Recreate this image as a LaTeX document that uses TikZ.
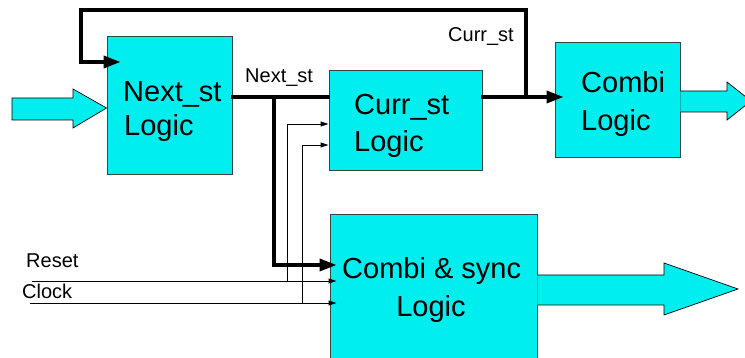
\documentclass[tikz,border=0pt]{standalone}
\usepackage{fontspec}
\setmainfont{Liberation Sans}
\usetikzlibrary{arrows.meta,calc}
\definecolor{cy}{RGB}{0,238,238}
\definecolor{bd}{RGB}{50,70,70}
\tikzset{
  blk/.style={draw=bd,line width=0.9pt,fill=cy,inner sep=0pt},
  bigtxt/.style={font=\fontsize{29}{34}\selectfont,inner sep=0pt,anchor=base west},
  lbl/.style={font=\fontsize{20}{22}\selectfont,inner sep=0pt,anchor=base west},
  bus/.style={line width=3.5pt,line cap=rect},
  bushead/.style={-{Triangle[length=17pt,width=12pt]}},
  wire/.style={line width=0.9pt,-{Triangle[length=8pt,width=5pt]}},
  fatarrow/.style={draw=black,line width=0.7pt,fill=cy,line join=miter}
}
\begin{document}
\begin{tikzpicture}[x=1pt,y=-1pt]
\useasboundingbox (0,0) rectangle (745,358);
% boxes
\node[blk,minimum width=125pt,minimum height=138pt] (ns) at (169.5,105) {};
\node[blk,minimum width=153pt,minimum height=100pt] (cs) at (405.5,120) {};
\node[blk,minimum width=125pt,minimum height=115pt] (cb) at (617.5,99.5) {};
\node[blk,minimum width=207pt,minimum height=150pt] (sy) at (433.5,289) {};
% box texts
\node[bigtxt] (nst1) at (123,102) {Next\_st};
\node[bigtxt] (nst2) at (124,136) {Logic};
\node[bigtxt] (cst1) at (354,115) {Curr\_st};
\node[bigtxt] (cst2) at (354,152) {Logic};
\node[bigtxt] (cbt1) at (581,93) {Combi};
\node[bigtxt] (cbt2) at (581,131) {Logic};
\node[bigtxt] (syt1) at (342,279) {Combi \& sync};
\node[bigtxt,anchor=base] (syt2) at (431,317) {Logic};
% labels
\node[lbl] (lns) at (245,83) {Next\_st};
\node[lbl] (lcs) at (448,42) {Curr\_st};
\node[lbl] (lrs) at (26,268) {Reset};
\node[lbl] (lck) at (22,299) {Clock};
% coordinates
\coordinate (j1) at (274,97);
\coordinate (fb) at (526,97);
\coordinate (t1) at (526,10);
\coordinate (t2) at (81,10);
\coordinate (t3) at (81,62);
\coordinate (j2) at (274,265);
\coordinate (rs) at (32,281);
\coordinate (ck) at (30,303);
\coordinate (v1) at (287,124);
\coordinate (v2) at (302,145);
% thick buses
\draw[bus] (ns.east |- j1) -- (cs.west |- j1);
\draw[bus,bushead] (cs.east |- j1) -- ($(cb.west |- j1)+(9,0)$);
\draw[bus,bushead] (fb) -- (t1) -- (t2) -- (t3) -- ($(ns.west |- t3)+(14,0)$);
\draw[bus,bushead] (j1) -- (j2) -- ($(sy.west |- j2)+(7,0)$);
% thin wires
\draw[wire] (rs) -- ($(sy.west |- rs)+(7,0)$);
\draw[wire] (ck) -- ($(sy.west |- ck)+(7,0)$);
\draw[wire] (rs -| v1) -- (v1) -- (cs.west |- v1);
\draw[wire] (ck -| v2) -- (v2) -- (cs.west |- v2);
% fat block arrows
\draw[fatarrow] (12,98) -- (73,98) -- (73,89) -- (ns.west |- 0,108) -- (73,128) -- (73,120) -- (12,120) -- cycle;
\draw[fatarrow] (cb.east |- 0,91) -- (727,91) -- (727,82) -- (751,101) -- (727,120) -- (727,112) -- (cb.east |- 0,112);
\draw[fatarrow] (sy.east |- 0,275) -- (664,275) -- (664,263) -- (738,289) -- (664,315) -- (664,305) -- (sy.east |- 0,305);
\end{tikzpicture}
\end{document}
